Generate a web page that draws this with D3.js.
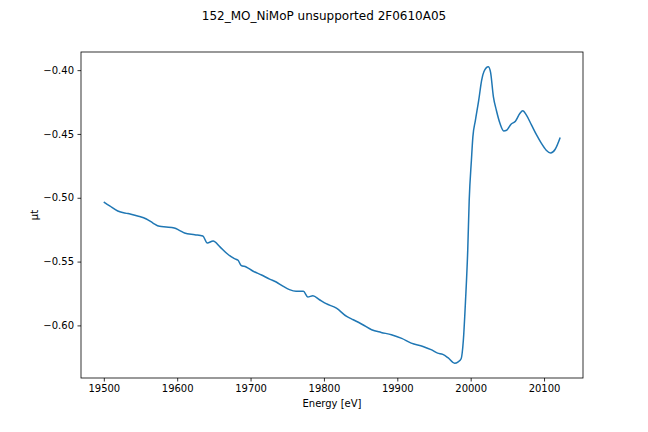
<!DOCTYPE html>
<html>
<head>
<meta charset="utf-8">
<script src="https://cdn.jsdelivr.net/npm/d3@7"></script>
<style>
  body { margin: 0; background: #fff; }
  text { font-family: "DejaVu Sans", sans-serif; fill: #000; }
</style>
</head>
<body>
<div id="root"></div>
<script>
var title = "152_MO_NiMoP unsupported 2F0610A05";

var energy = [19500, 19508, 19519, 19533, 19546, 19558, 19567, 19576, 19585, 19596,
    19603, 19610, 19624, 19635, 19641, 19649, 19658, 19667, 19678, 19683,
    19687, 19694, 19703, 19715, 19726, 19735, 19744, 19753, 19762, 19772,
    19778, 19785, 19794, 19803, 19817, 19831, 19840, 19853, 19865, 19878,
    19892, 19906, 19919, 19935, 19946, 19955, 19962, 19969, 19978, 19983,
    19987, 19990, 19993, 19996, 19998, 20001, 20003, 20006.5, 20011, 20015,
    20018, 20024, 20027, 20031, 20035, 20040, 20045, 20049, 20055, 20061,
    20067, 20071, 20076, 20083, 20090, 20096, 20103, 20109, 20115, 20122
];

var mu = [-0.5033, -0.5064, -0.5104, -0.5124, -0.5143, -0.5166, -0.5198, -0.5224, -0.5229, -0.5237,
    -0.5255, -0.5276, -0.5289, -0.5300, -0.5354, -0.5339, -0.5383, -0.5433, -0.5477, -0.5490,
    -0.5529, -0.5542, -0.5574, -0.5605, -0.5637, -0.5660, -0.5692, -0.5720, -0.5733, -0.5733,
    -0.5778, -0.5767, -0.5799, -0.5830, -0.5865, -0.5930, -0.5956, -0.5995, -0.6034, -0.6055,
    -0.6073, -0.6102, -0.6139, -0.6165, -0.6190, -0.6217, -0.6227, -0.6253, -0.6296, -0.6285,
    -0.6261, -0.6118, -0.5804, -0.5412, -0.5020, -0.4706, -0.4523, -0.4392, -0.4235, -0.4078,
    -0.4013, -0.3974, -0.4013, -0.4209, -0.4314, -0.4418, -0.4476, -0.4471, -0.4424, -0.4400,
    -0.4340, -0.4319, -0.4353, -0.4431, -0.4510, -0.4570, -0.4627, -0.4649, -0.4622, -0.4528
];

var xTicks = [19500, 19600, 19700, 19800, 19900, 20000, 20100];
var yTicks = [-0.60, -0.55, -0.50, -0.45, -0.40];

var width = 648, height = 432;
var plotLeft = 81, plotRight = 583, plotTop = 52, plotBottom = 378;

var svg = d3.select("#root")
    .append("svg")
    .attr("width", width)
    .attr("height", height);

// matplotlib style 5% margins
var xr = d3.extent(energy), yr = d3.extent(mu);
var xm = (xr[1] - xr[0]) * 0.05, ym = (yr[1] - yr[0]) * 0.05;

var x = d3.scaleLinear()
    .domain([xr[0] - xm, xr[1] + xm])
    .range([plotLeft, plotRight]);

var y = d3.scaleLinear()
    .domain([yr[0] - ym, yr[1] + ym])
    .range([plotBottom, plotTop]);

function draw() {
    var xAxis = svg.append("g")
        .attr("transform", "translate(0," + plotBottom + ")")
        .call(d3.axisBottom(x).tickValues(xTicks).tickFormat(d3.format("d")).tickSize(3.5).tickPadding(3.5));

    var yAxis = svg.append("g")
        .attr("transform", "translate(" + plotLeft + ",0)")
        .call(d3.axisLeft(y).tickValues(yTicks).tickFormat(function (d) {
            return d3.format(".2f")(d).replace("-", "\u2212");
        }).tickSize(3.5).tickPadding(3.5));

    [xAxis, yAxis].forEach(function (g) {
        g.select(".domain").remove();
        g.selectAll("line").attr("stroke", "#000").attr("stroke-width", 0.8);
        g.selectAll("text").attr("font-size", 10).attr("font-family", "DejaVu Sans");
    });

    svg.append("rect")
        .attr("x", plotLeft)
        .attr("y", plotTop)
        .attr("width", plotRight - plotLeft)
        .attr("height", plotBottom - plotTop)
        .attr("fill", "none")
        .attr("stroke", "#000")
        .attr("stroke-width", 0.8);

    var line = d3.line()
        .x(function (d, i) { return x(energy[i]); })
        .y(function (d) { return y(d); })
        .curve(d3.curveMonotoneX);

    svg.append("path")
        .datum(mu)
        .attr("d", line)
        .attr("fill", "none")
        .attr("stroke", "#1f77b4")
        .attr("stroke-width", 1.5)
        .attr("stroke-linejoin", "round");

    svg.append("text")
        .attr("x", width / 2)
        .attr("y", 20)
        .attr("text-anchor", "middle")
        .attr("font-size", 12)
        .text(title);

    svg.append("text")
        .attr("x", (plotLeft + plotRight) / 2)
        .attr("y", 407)
        .attr("text-anchor", "middle")
        .attr("font-size", 10)
        .text("Energy [eV]");

    svg.append("text")
        .attr("transform", "translate(38," + ((plotTop + plotBottom) / 2) + ") rotate(-90)")
        .attr("text-anchor", "middle")
        .attr("font-size", 10)
        .text("μt");
}

draw();
</script>
</body>
</html>
